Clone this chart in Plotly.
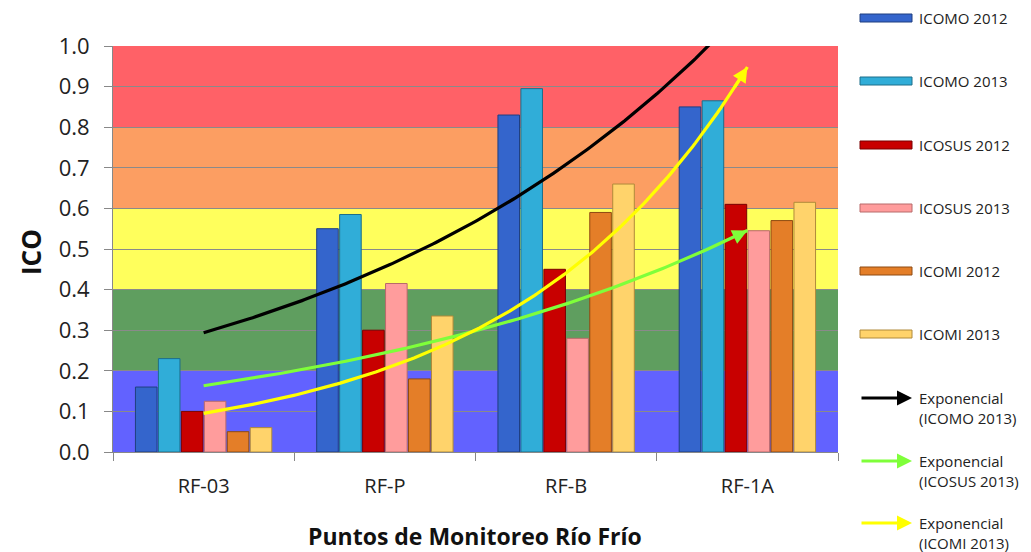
import numpy as np
import plotly.graph_objects as go

# Monitoring points and index values
puntos = ["RF-03", "RF-P", "RF-B", "RF-1A"]
icomo_2012 = [0.16, 0.55, 0.83, 0.85]
icomo_2013 = [0.23, 0.585, 0.895, 0.865]
icosus_2012 = [0.10, 0.30, 0.45, 0.61]
icosus_2013 = [0.125, 0.415, 0.28, 0.545]
icomi_2012 = [0.05, 0.18, 0.59, 0.57]
icomi_2013 = [0.06, 0.335, 0.66, 0.615]

# Quality bands (lower, upper, colour)
bandas = [(0.0, 0.2, "#6262FF"), (0.2, 0.4, "#5F9E5F"), (0.4, 0.6, "#FFFF5C"),
          (0.6, 0.8, "#FC9E62"), (0.8, 1.0, "#FF6167")]

series = [
    ("ICOMO 2012", icomo_2012, "#3465CC", "#1F3F80"),
    ("ICOMO 2013", icomo_2013, "#30ADD8", "#1C6E8A"),
    ("ICOSUS 2012", icosus_2012, "#C80000", "#7A0000"),
    ("ICOSUS 2013", icosus_2013, "#FF9C9C", "#B86A6A"),
    ("ICOMI 2012", icomi_2012, "#E47E28", "#8E4A12"),
    ("ICOMI 2013", icomi_2013, "#FFD36B", "#B08A3A"),
]

tendencias = [
    ("Exponencial<br>(ICOMO 2013)", icomo_2013, "#000000"),
    ("Exponencial<br>(ICOSUS 2013)", icosus_2013, "#7FFF3A"),
    ("Exponencial<br>(ICOMI 2013)", icomi_2013, "#FFFF00"),
]

x_pos = np.arange(1, len(puntos) + 1)
fig = go.Figure()

for nombre, valores, color, borde in series:
    fig.add_trace(go.Bar(
        x=x_pos, y=valores, name=nombre, showlegend=False,
        marker=dict(color=color, line=dict(color=borde, width=1)),
    ))

annotations = []
xs = np.linspace(1, len(puntos), 200)
for nombre, valores, color in tendencias:
    b, a = np.polyfit(x_pos, np.log(valores), 1)
    ys = np.exp(a + b * xs)
    fig.add_trace(go.Scatter(x=xs, y=ys, mode="lines", showlegend=False,
                             line=dict(color=color, width=3.2)))
    if ys[-1] <= 1.0:
        annotations.append(dict(
            x=xs[-1], y=ys[-1], ax=xs[-6], ay=ys[-6], xref="x", yref="y",
            axref="x", ayref="y", showarrow=True, arrowhead=2, arrowsize=1,
            arrowwidth=3, arrowcolor=color, text=""))

shapes = []
for lo, hi, col in bandas:
    shapes.append(dict(type="rect", xref="paper", yref="y", x0=0, x1=1, y0=lo, y1=hi,
                       fillcolor=col, line=dict(width=0), layer="below"))

FONT = "Open Sans, Liberation Sans, sans-serif"
# Side legend drawn in paper coordinates
leg_font = dict(family=FONT, size=15, color="#222")
x_sw0, x_sw1, x_txt = 860, 912, 917
W, H, ml, mr, mt, mb = 1031, 552, 113, 193, 46, 100
pw, ph = W - ml - mr, H - mt - mb


def px_to_paper(px, py):
    return (px - ml) / pw, (H - mb - py) / ph


y_items = [18, 81, 145, 208, 271, 334]
for (nombre, _, color, borde), py in zip(series, y_items):
    x0, y0 = px_to_paper(x_sw0, py - 4)
    x1, y1 = px_to_paper(x_sw1, py + 4)
    shapes.append(dict(type="rect", xref="paper", yref="paper", x0=x0, x1=x1,
                       y0=y1, y1=y0, fillcolor=color, line=dict(color=borde, width=1)))
    tx, ty = px_to_paper(x_txt, py)
    annotations.append(dict(x=tx, y=ty, xref="paper", yref="paper", text=nombre,
                            showarrow=False, xanchor="left", yanchor="middle",
                            font=leg_font))

y_tend = [398, 461, 523]
for (nombre, _, color), py in zip(tendencias, y_tend):
    hx, hy = px_to_paper(x_sw1, py)
    annotations.append(dict(x=hx, y=hy, ax=-(x_sw1 - x_sw0), ay=0, xref="paper",
                            yref="paper", axref="pixel", ayref="pixel", showarrow=True,
                            arrowhead=2, arrowsize=1, arrowwidth=3, arrowcolor=color,
                            text=""))
    tx, ty = px_to_paper(x_txt, py - 12)
    annotations.append(dict(x=tx, y=ty, xref="paper", yref="paper", text=nombre,
                            showarrow=False, xanchor="left", yanchor="top",
                            align="left", font=leg_font))

# Axis titles
tx, ty = px_to_paper(475, 536)
annotations.append(dict(x=tx, y=ty, xref="paper", yref="paper",
                        text="<b>Puntos de Monitoreo Río Frío</b>", showarrow=False,
                        xanchor="center", yanchor="middle",
                        font=dict(family=FONT, size=23, color="#111")))
tx, ty = px_to_paper(31, 252)
annotations.append(dict(x=tx, y=ty, xref="paper", yref="paper", text="<b>ICO</b>",
                        showarrow=False, textangle=-90, xanchor="center",
                        yanchor="middle", font=dict(family=FONT, size=26, color="#111")))

fig.update_layout(
    width=W, height=H,
    margin=dict(l=ml, r=mr, t=mt, b=mb),
    paper_bgcolor="white", plot_bgcolor="white",
    barmode="group", bargap=0.24, bargroupgap=0.06,
    font=dict(family=FONT, size=21, color="#222"),
    shapes=shapes, annotations=annotations,
    xaxis=dict(range=[0.5, len(puntos) + 0.5], tickvals=list(x_pos), ticktext=puntos,
               ticks="", showgrid=False, zeroline=False, showline=True,
               linecolor="#888", linewidth=1, ticklabelstandoff=16, automargin=False,
               tickfont=dict(size=20),
               minor=dict(tickvals=[0.5, 1.5, 2.5, 3.5, 4.5], ticks="outside",
                          ticklen=8, tickcolor="#888", showgrid=False)),
    yaxis=dict(range=[0, 1.0], dtick=0.1, tickformat=".1f", showgrid=True,
               gridcolor="#8A8A8A", gridwidth=1, zeroline=False, showline=True,
               linecolor="#888", ticks="outside", ticklen=8, tickcolor="#888",
               ticklabelstandoff=10, tickfont=dict(size=22), automargin=False),
)

fig.write_html("out.html")
